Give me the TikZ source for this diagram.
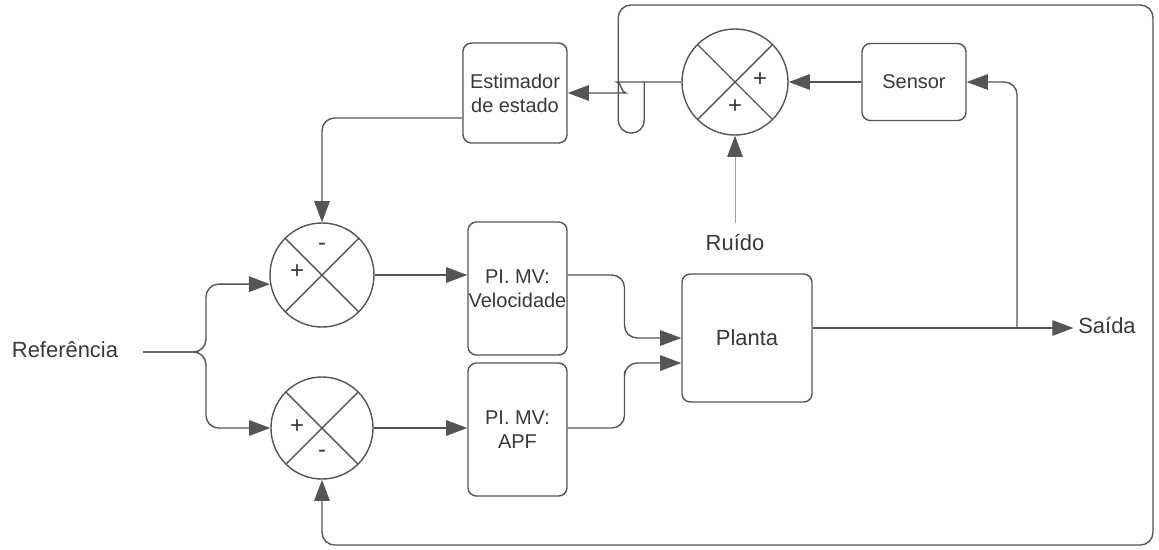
\documentclass[tikz,border=0pt]{standalone}
\usepackage{fontspec}
\setmainfont{Liberation Sans}
\usepackage{tikz}
\usetikzlibrary{arrows.meta,positioning,calc}
\definecolor{wire}{HTML}{555555}
\definecolor{ink}{HTML}{383838}

\begin{document}
\begin{tikzpicture}[
x=0.025cm, y=-0.025cm,
font=\fontsize{14.2}{17}\selectfont, text=ink,
block/.style={draw=wire, line width=1pt, rounded corners=6pt, align=center, inner sep=0pt},
summer/.style={draw=wire, line width=1pt, circle, inner sep=0pt,
  path picture={\draw[wire, line width=1pt]
    (path picture bounding box.south west) -- (path picture bounding box.north east)
    (path picture bounding box.north west) -- (path picture bounding box.south east);}},
sign/.style={font=\fontsize{17}{17}\selectfont, inner sep=0pt},
label/.style={font=\fontsize{15.6}{18}\selectfont},
signal/.style={-{Triangle[length=15pt,width=11pt,color=wire]}, draw=wire, line width=1pt, rounded corners=9pt},
scale=1]
    \useasboundingbox (0,0) rectangle (1159,549);

    % Blocks
    \node[block, minimum width=2.6cm, minimum height=2.5cm] (est) at (515,93) {Estimador\\de estado};
    \node[block, minimum width=2.6cm, minimum height=1.925cm] (sensor) at (914,82) {Sensor};
    \node[block, minimum width=2.475cm, minimum height=3.325cm] (pv) at (517.5,288.5) {PI. MV:\\Velocidade};
    \node[block, minimum width=2.475cm, minimum height=3.325cm] (pa) at (517.5,429.5) {PI. MV:\\APF};
    \node[block, minimum width=3.25cm, minimum height=3.2cm, font=\fontsize{15.6}{18}\selectfont] (planta) at (747,338) {Planta};

    % Summing junctions
    \node[summer, minimum size=2.65cm] (sn) at (735,82) {};
    \node[summer, minimum size=2.6cm] (s1) at (322,275) {};
    \node[summer, minimum size=2.55cm] (s2) at (322,428) {};

    \node[sign] at ($(sn)+(25,-2)$) {+};
    \node[sign] at ($(sn)+(0,25)$) {+};
    \node[sign] at ($(s1)+(0,-28)$) {-};
    \node[sign] at ($(s1)+(-25,-3)$) {+};
    \node[sign] at ($(s2)+(-25,-1)$) {+};
    \node[sign] at ($(s2)+(0,26)$) {-};

    % Labels
    \node[label] (ref) at (65,350) {Referência};
    \node[label] (ruido) at (735,243) {Ruído};
    \node[label] (saida) at (1107,326) {Saída};

    \coordinate (refout) at (143,352);
    \coordinate (pout) at ($(planta.east)+(0,-10)$);
    \coordinate (tap) at (1017,328);
    \coordinate (fb) at ($(sn.west)+(-37,0)$);
    \coordinate (loopne) at (1153,5);
    \coordinate (loopse) at (1153,545);

    % Forward path
    \draw[signal] (refout) -- (206,352) |- (s1.190);
    \draw[signal] (refout) -- (206,352) |- (s2.west);
    \draw[signal] (s1.east) -- (s1.east -| pv.west);
    \draw[signal] (s2.east) -- (s2.east -| pa.west);
    \draw[signal] (pv.east |- s1.east) -| ($(pv.east)!.5!(planta.west)$) |- (planta.west);
    \draw[signal] (pa.east |- s2.east) -| ($(pa.east)!.5!(planta.west)$) |- ($(planta.west)+(0,25)$);
    \draw[signal] (pout) -- (pout -| saida.west);

    % Measurement and feedback
    \draw[signal] (tap) |- (sensor.east);
    \draw[signal] (sensor.west) -- (sn.east);
    \draw[signal, draw=wire!55, line width=0.7pt, shorten <=5pt] (ruido.north) -- (sn.south);
    \draw[signal] (sn.west) -- ++(-52,0) to[out=180,in=0] ++(-16,11) -- (est.east);
    \draw[signal] ($(est.west)+(0,25)$) -| (s1.north);
    \draw[signal] (fb) -- ++(0,51) -- ++(-26,0) |- (loopne) -- (loopse) -| (s2.south);

\end{tikzpicture}
\end{document}
